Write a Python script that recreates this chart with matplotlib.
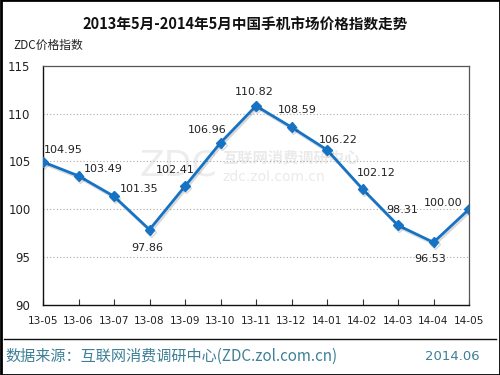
import matplotlib
matplotlib.use("Agg")
import matplotlib.pyplot as plt
import matplotlib.patheffects as pe
from matplotlib.patches import Rectangle
from matplotlib.lines import Line2D

plt.rcParams['font.family'] = ['Noto Sans CJK SC', 'DejaVu Sans']

months = ["13-05", "13-06", "13-07", "13-08", "13-09", "13-10", "13-11",
          "13-12", "14-01", "14-02", "14-03", "14-04", "14-05"]
values = [104.95, 103.49, 101.35, 97.86, 102.41, 106.96, 110.82,
          108.59, 106.22, 102.12, 98.31, 96.53, 100.00]
label_offsets = [(20, 12), (25, 7), (25, 7), (-2, -18), (-10, 16), (-13, 13),
                 (-2, 14), (6, 17), (11, 10), (14, 16), (4, 15), (-3, -17), (-26, 6)]
yticks = [90, 95, 100, 105, 110, 115]

fig = plt.figure(figsize=(5, 3.75), dpi=100)
ax = fig.add_axes([0.086, 0.1875, 0.852, 0.6365])

x = list(range(len(months)))
line_color = "#1673c4"
ax.plot(x, values, color=line_color, lw=2, marker="D", ms=5,
        markeredgecolor=line_color, markerfacecolor=line_color, zorder=3,
        path_effects=[pe.SimpleLineShadow(offset=(1, -1.5), alpha=0.15), pe.Normal()])

for xi, v, (dx, dy) in zip(x, values, label_offsets):
    ax.annotate(f"{v:.2f}", (xi, v), xytext=(dx, dy), textcoords="offset pixels",
                ha="center", va="center", fontsize=8, color="#222222",
                family=["DejaVu Sans"], zorder=4)

ax.set_xlim(0, len(months) - 1)
ax.set_ylim(90, 115)
ax.set_yticks(yticks)
ax.set_yticklabels([str(t) for t in yticks])
ax.set_xticks(x)
ax.set_xticklabels(months)
for t in [95, 100, 105, 110]:
    ax.axhline(t, color="#aaaaaa", lw=0.8, ls=(0, (1, 2)), zorder=1)

ax.tick_params(axis="x", direction="in", length=4, width=0.8, color="#333333",
               labelsize=7.6, labelcolor="#222222", pad=8, top=False)
ax.tick_params(axis="y", length=0, labelsize=8.5, labelcolor="#222222", pad=9)
for lbl in ax.get_xticklabels() + ax.get_yticklabels():
    lbl.set_family(["DejaVu Sans"])
for side in ["left", "bottom"]:
    ax.spines[side].set_color("#111111")
    ax.spines[side].set_linewidth(1.0)
for side in ["top", "right"]:
    ax.spines[side].set_color("#555555")
    ax.spines[side].set_linewidth(0.9)

# watermark
ax.text(0.408, 0.585, "ZDC", transform=ax.transAxes, fontsize=26, color="#ededed",
        ha="right", va="center", family=["DejaVu Sans"], zorder=0)
ax.text(0.42, 0.615, "互联网消费调研中心", transform=ax.transAxes, fontsize=11,
        color="#eaeaea", ha="left", va="center", zorder=0, fontweight="bold")
ax.text(0.42, 0.535, "zdc.zol.com.cn", transform=ax.transAxes, fontsize=10,
        color="#eaeaea", ha="left", va="center", zorder=0, family=["DejaVu Sans"])

fig.text(0.491, 0.935, "2013年5月-2014年5月中国手机市场价格指数走势", ha="center",
         va="center", fontsize=10.5, fontweight="bold", color="#111111")
fig.text(0.026, 0.88, "ZDC价格指数", ha="left", va="center", fontsize=8.5,
         color="#222222")

fig.add_artist(Line2D([0.008, 0.992], [0.097, 0.097], transform=fig.transFigure,
                      color="#111111", lw=1))
fig.text(0.01, 0.049, "数据来源：互联网消费调研中心(ZDC.zol.com.cn)", ha="left",
         va="center", fontsize=10.9, color="#3d8097")
fig.text(0.96, 0.049, "2014.06", ha="right", va="center", fontsize=9.5,
         color="#3d8097", family=["DejaVu Sans"])

fig.add_artist(Rectangle((0.001, 0.001), 0.998, 0.998, transform=fig.transFigure,
                         fill=False, edgecolor="black", lw=2))

fig.savefig("out.png", dpi=100)
